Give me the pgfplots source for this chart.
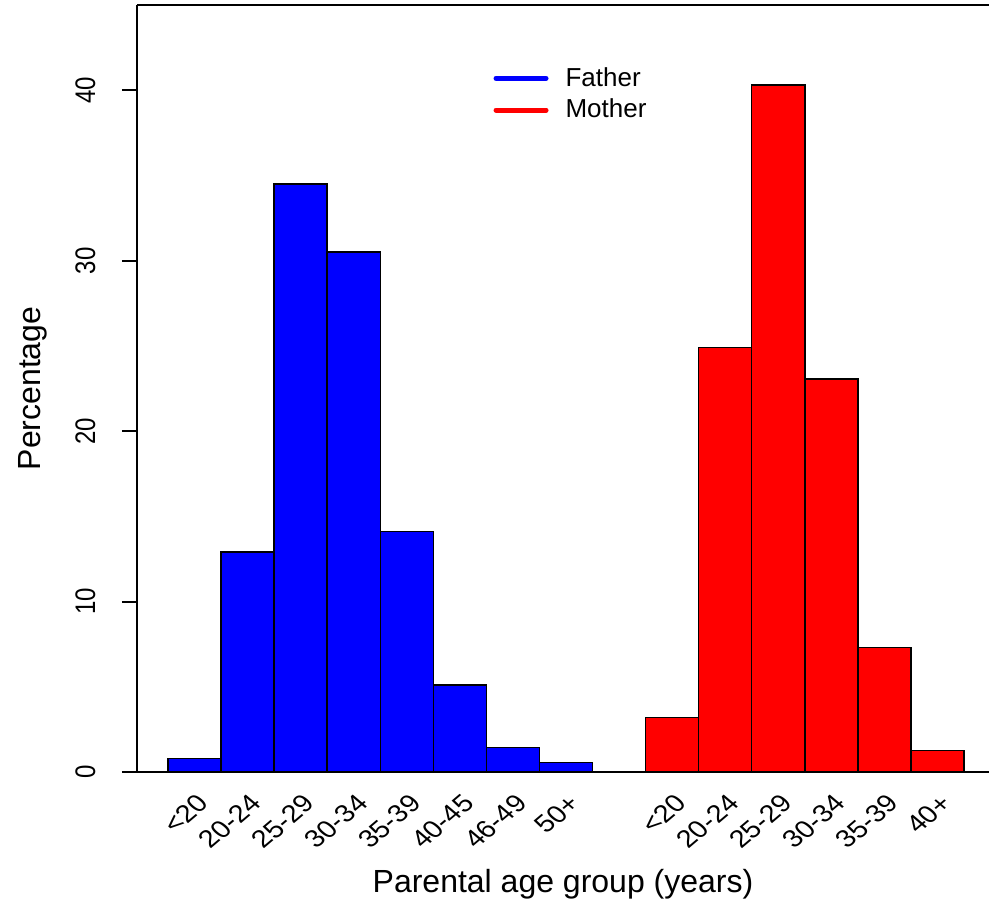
\documentclass[border=0pt]{standalone}
\usepackage{fontspec}
\setmainfont{Liberation Sans}
\usepackage{pgfplots}
\pgfplotsset{compat=1.18}
\begin{document}
\begin{tikzpicture}
% 1 px of the reference = 0.5pt
\useasboundingbox (-68.5pt,-64pt) rectangle (426pt,386pt);
\begin{axis}[
  at={(0,0)}, anchor=south west,
  scale only axis, width=426pt, height=383.5pt,
  xmin=-1.083, xmax=14.97, ymin=0, ymax=45,
  axis x line*=box, axis y line*=left,
  axis line style={line width=1pt},
  ytick={0,10,20,30,40},
  tick align=outside, major tick length=7.5pt,
  ytick style={line width=1pt, black},
  xtick={0,1,2,3,4,5,6,7,9,10,11,12,13,14},
  xticklabels={{<20},{20-24},{25-29},{30-34},{35-39},{40-45},{46-49},{50+},
               {<20},{20-24},{25-29},{30-34},{35-39},{40+}},
  xtick style={draw=none},
  /pgf/number format/assume math mode=true,
  yticklabel style={xscale=1.18, rotate=90, anchor=south, inner sep=0pt,
    font=\fontsize{12}{14}\selectfont},
  yticklabel shift=13pt,
  xticklabel style={xshift=4.5pt, xscale=1.18, rotate=45, anchor=east,
    inner sep=0pt, font=\fontsize{12.3}{14}\selectfont},
  xticklabel shift=6pt,
  xlabel={Parental age group (years)},
  ylabel={Percentage},
  label style={font=\fontsize{16}{19}\selectfont},
  xlabel style={at={(axis description cs:0.5,-0.1565)}, anchor=base},
  ylabel style={at={(axis description cs:-0.1138,0.5)}, anchor=base},
  legend style={draw=none, fill=none, inner sep=0pt,
    at={(axis description cs:0.418,0.9245)}, anchor=north west,
    font=\fontsize{13}{15.6}\selectfont, row sep=1pt,
    /tikz/every odd column/.append style={column sep=6.5pt}},
  legend cell align=left,
  legend image code/.code={\draw[#1] (0pt,0pt) -- (25pt,0pt);},
]
\addplot[ybar, bar width=1, bar shift=0pt, fill=blue, draw=black,
  line width=0.7pt, forget plot] coordinates {
  (0,0.8) (1,12.9) (2,34.5) (3,30.5) (4,14.1) (5,5.1) (6,1.45) (7,0.55)
};
\addplot[ybar, bar width=1, bar shift=0pt, fill=red, draw=black,
  line width=0.7pt, forget plot] coordinates {
  (9,3.2) (10,24.9) (11,40.3) (12,23.05) (13,7.3) (14,1.25)
};
\addlegendimage{blue, line width=2.5pt, line cap=round}
\addlegendentry{Father}
\addlegendimage{red, line width=2.5pt, line cap=round}
\addlegendentry{Mother}
\end{axis}
\end{tikzpicture}
\end{document}
